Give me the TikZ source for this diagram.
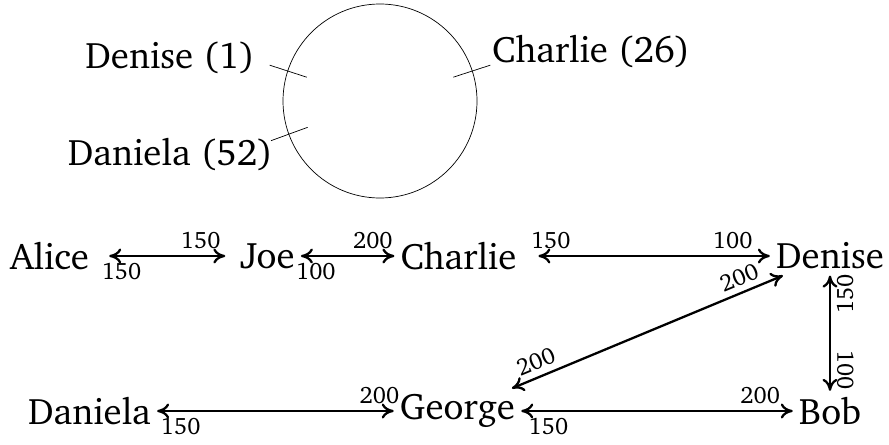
\documentclass[tikz,border=0pt]{standalone}
\usepackage[T1]{fontenc}
\usepackage{charter}
\usepackage{tikz}
\usetikzlibrary{positioning, arrows.meta, calc}

\begin{document}
\begin{tikzpicture}[
  nm/.style={font=\fontsize{21}{25}\selectfont},
  wt/.style={font=\fontsize{13.5}{16}\selectfont},
  lnk/.style={{To[length=2.4mm,width=3mm]}-{To[length=2.4mm,width=3mm]}, line width=1.3pt},
  ring/.style={draw, circle, minimum size=3.88cm, inner sep=0pt},
]
\useasboundingbox (0,0) rectangle (17.78,8.88);

% ── hash ring ──
\node[ring] (R) at (7.60,6.86) {};
\coordinate (iD)  at ($(R.center)+(162:1.54)$);
\coordinate (oD)  at ($(R.center)+(162:2.32)$);
\coordinate (iC)  at ($(R.center)+(18:1.54)$);
\coordinate (oC)  at ($(R.center)+(18:2.32)$);
\coordinate (iDa) at ($(R.center)+(200:1.54)$);
\coordinate (oDa) at ($(R.center)+(200:2.32)$);
\draw (iD) -- (oD);
\draw (iC) -- (oC);
\draw (iDa) -- (oDa);

% ── ring labels ──
\node[nm, anchor=east] (lD)  at (5.22,7.72) {Denise (1)};
\node[nm, anchor=west] (lC)  at (9.72,7.86) {Charlie (26)};
\node[nm, anchor=east] (lDa) at (5.58,5.80) {Daniela (52)};

% ── peers ──
\node[nm] (Alice)   at (0.99,3.76)  {Alice};
\node[nm] (Joe)     at (5.35,3.76)  {Joe};
\node[nm] (Charlie) at (9.17,3.76)  {Charlie};
\node[nm] (Denise)  at (16.60,3.76) {Denise};
\node[nm] (Daniela) at (1.79,0.66)  {Daniela};
\node[nm] (George)  at (9.15,0.66)  {George};
\node[nm] (Bob)     at (16.60,0.66) {Bob};

% ── links (weights at both ends) ──
\draw[lnk, shorten <=8pt, shorten >=5pt] (Alice) -- node[wt, above, pos=.76] {150} node[wt, below, pos=.19] {150} (Joe);
\draw[lnk] (Joe) -- node[wt, above, pos=.77] {200} node[wt, below, pos=.16] {100} (Charlie);
\draw[lnk, shorten <=9pt] (Charlie) -- node[wt, above, pos=.114] {150} node[wt, above, pos=.85] {100} (Denise);
\draw[lnk] (Daniela) -- node[wt, above, pos=.94] {200} node[wt, below, pos=.1] {150} (George);
\draw[lnk] (George) -- node[wt, above, pos=.88] {200} node[wt, below, pos=.1] {150} (Bob);
\draw[lnk] (George) -- node[wt, sloped, above, pos=.11] {200} node[wt, sloped, above, pos=.86] {200} (Denise);
\draw[lnk] (Denise.south) -- node[wt, rotate=90, anchor=north, pos=.16] {150} node[wt, rotate=-90, anchor=south, pos=.82] {100} (Bob.north);
\end{tikzpicture}
\end{document}
